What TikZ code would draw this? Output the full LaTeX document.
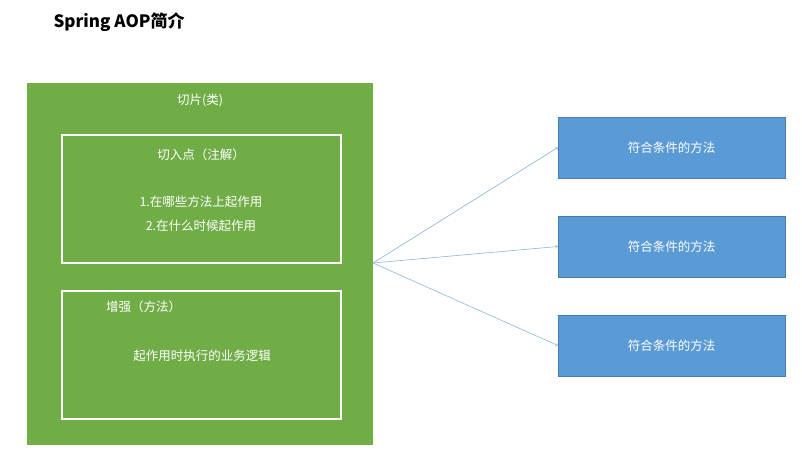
\documentclass[tikz,border=0pt]{standalone}
\usepackage{fontspec}
\setmainfont{Noto Sans CJK SC}
\usepackage{xcolor}
\definecolor{aopgreen}{RGB}{112,173,71}
\definecolor{aopblue}{RGB}{91,155,213}
\definecolor{arrowblue}{RGB}{140,180,215}
\begin{document}
\begin{tikzpicture}[x=1pt,y=-1pt,
    inner/.style={draw=white, line width=1.2pt},
    txt/.style={text=white, font=\fontsize{12.5}{15}\selectfont, inner sep=0pt},
    method/.style={fill=aopblue, draw=aopblue!80!black, line width=0.4pt, minimum width=227pt, minimum height=61pt, text=white, font=\fontsize{12.5}{15}\selectfont},
    link/.style={->, draw=arrowblue, line width=0.6pt}
]
\useasboundingbox (0,0) rectangle (802,460);

\node[anchor=west, font=\fontsize{17}{20}\selectfont\bfseries] (title) at (50,22) {Spring AOP简介};

% aspect
\fill[aopgreen] (27,83) rectangle (373,445);
\node[txt] (aspect) at (200,100) {切片(类)};
\draw[inner] (62,135) rectangle (341,263);
\node[txt] (pointcut) at (201,155) {切入点（注解）};
\node[txt] (where) at (201,202) {1.在哪些方法上起作用};
\node[txt] (when) at (201,226) {2.在什么时候起作用};
\draw[inner] (62,291) rectangle (341,419);
\node[txt, anchor=west] (advice) at (106,307) {增强（方法）};
\node[txt] (logic) at (202,356) {起作用时执行的业务逻辑};
\coordinate (src) at (373,263);

% methods
\node[method] (m1) at (671.5,147.5) {符合条件的方法};
\node[method] (m2) at (671.5,246.5) {符合条件的方法};
\node[method] (m3) at (671.5,345.5) {符合条件的方法};

\draw[link] (src) -- (m1.west);
\draw[link] (src) -- (m2.west);
\draw[link] (src) -- (m3.west);
\end{tikzpicture}
\end{document}
